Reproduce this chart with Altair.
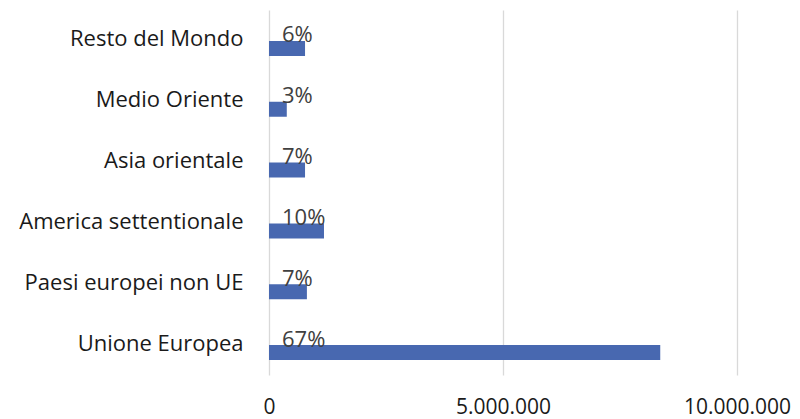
import altair as alt
import pandas as pd

categories = ["Resto del Mondo", "Medio Oriente", "Asia orientale",
              "America settentionale", "Paesi europei non UE", "Unione Europea"]
values = [770000, 380000, 770000, 1175000, 810000, 8360000]
pct_labels = ["6%", "3%", "7%", "10%", "7%", "67%"]
x_ticks = [0, 5000000, 10000000]
x_tick_labels = ["0", "5.000.000", "10.000.000"]

df = pd.DataFrame({"cat": categories, "val": values, "pct": pct_labels})

FONT = "Open Sans"

label_expr = ("datum.value == 0 ? '0' : datum.value == 5000000 ? '5.000.000' : '10.000.000'")

y_enc = alt.Y("cat:N", sort=categories,
              scale=alt.Scale(paddingInner=0, paddingOuter=0),
              axis=alt.Axis(title=None, domain=False, ticks=False, labelPadding=26,
                            labelOffset=-1,
                            labelFont=FONT, labelFontSize=22, labelColor="#1a1a1a",
                            labelLimit=400))
x_enc = alt.X("val:Q", scale=alt.Scale(domain=[0, 10000000], nice=False),
              axis=alt.Axis(title=None, values=x_ticks, labelExpr=label_expr,
                            domain=False, ticks=False, grid=True, gridColor="#d9d9d9",
                            gridWidth=1.3, labelPadding=21, labelFont=FONT,
                            labelFontSize=21, labelColor="#1a1a1a", labelFlush=False))

bars = alt.Chart(df).mark_bar(size=15, yOffset=8, color="#4868B0").encode(x=x_enc, y=y_enc)

text = alt.Chart(df).mark_text(align="left", baseline="alphabetic", dx=13, dy=2,
                               font=FONT, fontSize=22, color="#404040").encode(
    x=alt.value(0), y=alt.Y("cat:N", sort=categories), text="pct:N")

chart = (bars + text).properties(
    width=468, height=365,
    autosize=alt.AutoSizeParams(type="none"),
    padding={"left": 261, "top": 2, "right": 55, "bottom": 44},
).configure_view(stroke=None)

chart.save("out.html", embed_options={"renderer": "svg", "actions": False})
